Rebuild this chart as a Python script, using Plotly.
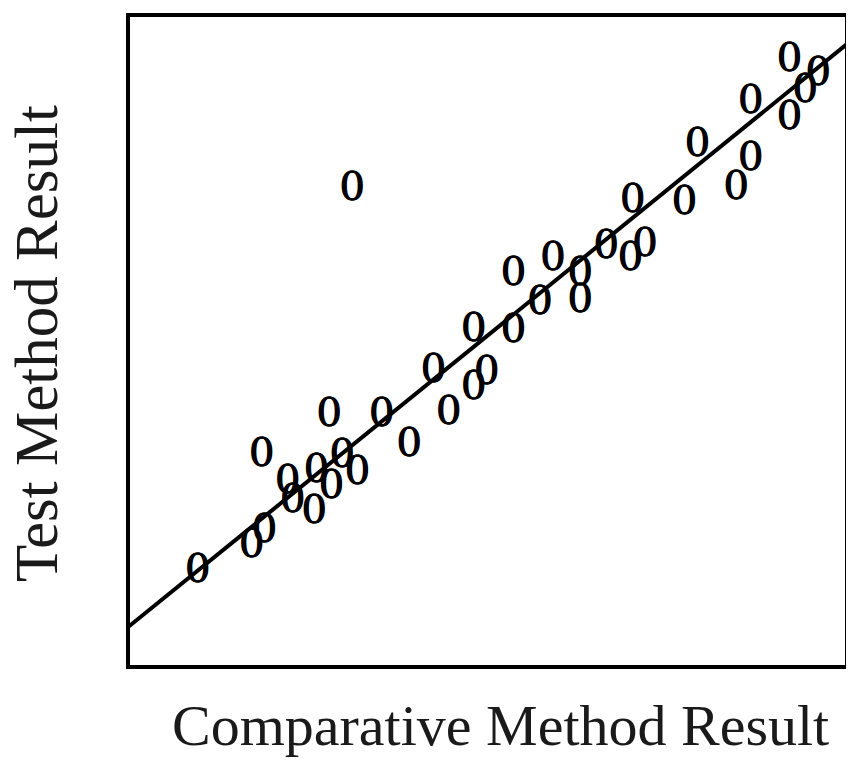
import plotly.graph_objects as go

# Comparative method result (x) and test method result (y), arbitrary units 0-100
comparative = [9.7, 17.2, 19.0, 18.6, 22.2, 22.9, 25.9, 26.2, 28.3, 28.0,
               29.8, 31.9, 31.2, 35.3, 39.1, 42.5, 44.6, 48.1, 48.1, 49.9,
               53.6, 53.6, 57.3, 59.1, 62.9, 62.9, 66.5, 70.2, 69.9, 71.9,
               77.4, 79.2, 84.6, 86.6, 86.6, 92.0, 92.0, 94.2, 96.0]
test = [14.5, 18.4, 20.7, 32.3, 28.2, 25.3, 23.6, 29.8, 27.4, 38.4,
        32.1, 29.5, 73.1, 38.5, 33.9, 45.1, 38.8, 51.4, 42.6, 44.9,
        60.1, 51.3, 55.6, 62.4, 60.0, 55.9, 64.2, 71.2, 62.3, 64.5,
        70.9, 79.8, 73.2, 86.3, 77.6, 92.8, 83.9, 88.1, 90.7]

# Regression line end points
line_x = [0, 100]
line_y = [6.1, 95.4]

x_title = "Comparative Method Result"
y_title = "Test Method Result"

fig = go.Figure()
fig.add_trace(go.Scatter(
    x=line_x, y=line_y, mode="lines",
    line=dict(color="black", width=4), hoverinfo="skip", showlegend=False,
))
fig.add_trace(go.Scatter(
    x=comparative, y=test, mode="text", text=["0"] * len(comparative),
    textposition="middle center",
    textfont=dict(family="DejaVu Serif", size=40, color="#000",
                  shadow="0.5px 0 0 #000, -0.5px 0 0 #000"),
    showlegend=False,
))

axis_common = dict(showline=True, mirror=True, linecolor="black", linewidth=4,
                   showgrid=False, zeroline=False, showticklabels=False,
                   ticks="", fixedrange=True)

fig.update_layout(
    width=846, height=752,
    margin=dict(l=122, r=6, t=5, b=95),
    paper_bgcolor="white", plot_bgcolor="white",
    xaxis=dict(axis_common, range=[0.28, 99.72]),
    yaxis=dict(axis_common, range=[0.30, 99.54]),
    annotations=[
        dict(text=x_title, xref="paper", yref="paper", x=0.5, y=0,
             xshift=13, yshift=-26,
             xanchor="center", yanchor="top", showarrow=False,
             font=dict(family="Liberation Serif", size=58, color="#1a1a1a")),
        dict(text=y_title, xref="paper", yref="paper", x=0, y=0.5,
             xshift=-94, yshift=-3,
             xanchor="center", yanchor="middle", showarrow=False, textangle=-90,
             font=dict(family="Liberation Serif", size=61, color="#1a1a1a")),
    ],
)

fig.write_html("out.html")
